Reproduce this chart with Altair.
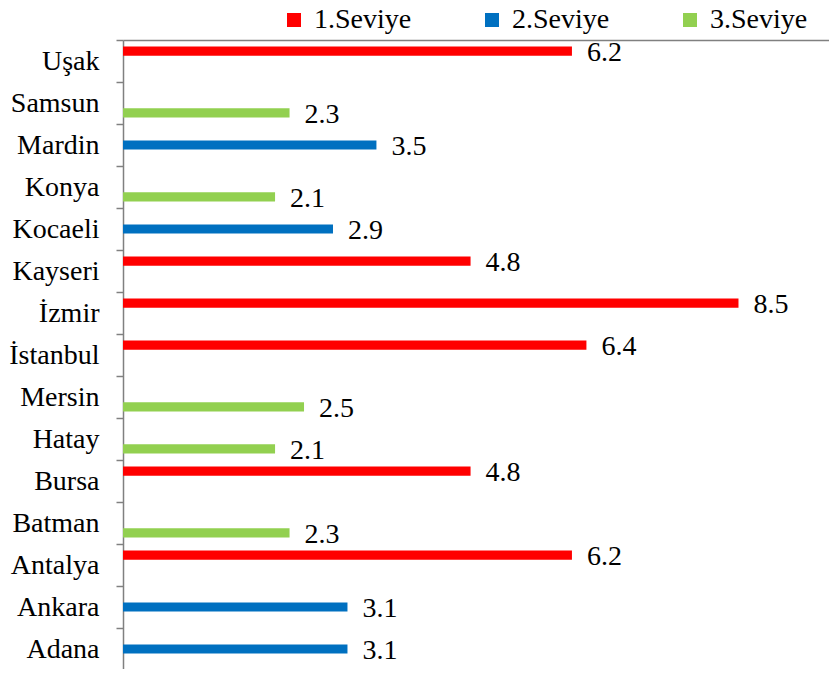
import altair as alt
import pandas as pd

cities = ["Uşak", "Samsun", "Mardin", "Konya", "Kocaeli", "Kayseri", "İzmir",
          "İstanbul", "Mersin", "Hatay", "Bursa", "Batman", "Antalya", "Ankara", "Adana"]
values = [6.2, 2.3, 3.5, 2.1, 2.9, 4.8, 8.5, 6.4, 2.5, 2.1, 4.8, 2.3, 6.2, 3.1, 3.1]
levels = ["1.Seviye", "3.Seviye", "2.Seviye", "3.Seviye", "2.Seviye", "1.Seviye", "1.Seviye",
          "1.Seviye", "3.Seviye", "3.Seviye", "1.Seviye", "3.Seviye", "1.Seviye", "2.Seviye", "2.Seviye"]
series = ["1.Seviye", "2.Seviye", "3.Seviye"]
colors = ["#FF0000", "#0070C0", "#92D050"]

df = pd.DataFrame({"city": cities, "value": values, "level": levels})

FONT = "Times New Roman"

y_enc = alt.Y(
    "city:N",
    sort=cities,
    title=None,
    scale=alt.Scale(range=[0, 630], paddingInner=0, paddingOuter=0),
    axis=alt.Axis(
        tickBand="extent",
        tickSize=7,
        tickColor="#808080",
        tickWidth=1.5,
        domainColor="#808080",
        domainWidth=1.5,
        labelFont=FONT,
        labelFontSize=28,
        labelColor="black",
        labelPadding=17,
        labelLimit=300,
    ),
)
yoff = alt.YOffset("level:N", scale=alt.Scale(domain=series, paddingInner=0.08, paddingOuter=0.67))
x_enc = alt.X(
    "value:Q",
    title=None,
    scale=alt.Scale(domain=[0, 9.75], nice=False),
    axis=alt.Axis(orient="top", labels=False, ticks=False, grid=False,
                  domainColor="#808080", domainWidth=1.5),
)

bars = alt.Chart(df).mark_bar().encode(
    x=x_enc,
    y=y_enc,
    yOffset=yoff,
    color=alt.Color(
        "level:N",
        scale=alt.Scale(domain=series, range=colors),
        legend=alt.Legend(
            title=None,
            orient="none",
            legendX=157,
            legendY=-34,
            direction="horizontal",
            columns=3,
            symbolType="square",
            symbolSize=196,
            symbolStrokeWidth=0,
            labelFont=FONT,
            labelFontSize=28,
            labelColor="black",
            labelOffset=6,
            columnPadding=66,
            padding=0,
        ),
    ),
)

labels = alt.Chart(df).mark_text(
    font=FONT, fontSize=28, align="left", baseline="middle", dx=15, dy=2, color="black"
).encode(
    x=x_enc,
    y=y_enc,
    yOffset=yoff,
    text=alt.Text("value:Q", format=".1f"),
)

chart = alt.layer(bars, labels).properties(
    width=706,
    height=629,
    autosize=alt.AutoSizeParams(type="none"),
    padding={"left": 115, "top": 32, "right": 0, "bottom": 0},
).configure(font=FONT).configure_view(strokeWidth=0)

chart.save("out.html", embed_options={"renderer": "svg", "actions": False})
